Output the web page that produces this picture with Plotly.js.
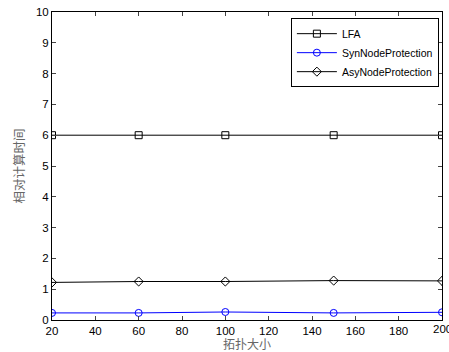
<!DOCTYPE html>
<html><head><meta charset="utf-8">
<script src="https://cdn.plot.ly/plotly-3.0.1.min.js"></script>
<style>body{margin:0;background:#fff}#c{width:449px;height:352px}</style>
</head><body><div id="c"></div>
<script>
const sizes = [20, 60, 100, 150, 200];
const lfa = [6, 6, 6, 6, 6];
const syn = [0.23, 0.23, 0.26, 0.23, 0.25];
const asy = [1.22, 1.25, 1.25, 1.28, 1.27];
const xTicks = [20, 40, 60, 80, 100, 120, 140, 160, 180, 200];
const yTicks = [0,1,2,3,4,5,6,7,8,9,10];

const traces = [
  {x: sizes, y: lfa, name: 'LFA', mode: 'lines+markers', line: {color: '#000', width: 1},
   marker: {symbol: 'square-open', size: 7, color: '#000', line: {width: 1}}},
  {x: sizes, y: syn, name: 'SynNodeProtection', mode: 'lines+markers', line: {color: '#0000ff', width: 1},
   marker: {symbol: 'circle-open', size: 7, color: '#0000ff', line: {width: 1}}},
  {x: sizes, y: asy, name: 'AsyNodeProtection', mode: 'lines+markers', line: {color: '#000', width: 1},
   marker: {symbol: 'diamond-open', size: 7, color: '#000', line: {width: 1}}}
];
const lastTick = xTicks[xTicks.length - 1];
const layout = {
  width: 449, height: 352,
  margin: {l: 52, r: 7, t: 12, b: 32},
  paper_bgcolor: '#fff', plot_bgcolor: '#fff',
  font: {family: 'Liberation Sans, Arial, sans-serif', size: 11.5, color: '#000'},
  showlegend: true,
  legend: {x: 0.992, y: 0.98, xanchor: 'right', yanchor: 'top', bgcolor: '#fff',
    bordercolor: '#000', borderwidth: 1, font: {size: 10.5}, tracegroupgap: 0,
    itemwidth: 40},
  annotations: [{x: lastTick, y: 0, xref: 'x', yref: 'paper', text: String(lastTick),
    showarrow: false, xanchor: 'center', yanchor: 'top', yshift: -1, font: {size: 11.5, color: '#000'}}],
  xaxis: {range: [20, 200], tickvals: xTicks, ticks: 'inside', ticklen: 4, mirror: 'ticks',
    showline: true, linecolor: '#000', linewidth: 1, showgrid: false, zeroline: false,
    title: {text: '拓扑大小', font: {family: 'Noto Sans CJK SC', size: 12, color: '#666'}, standoff: 2}},
  yaxis: {range: [0, 10], tickvals: yTicks, ticks: 'inside', ticklen: 4, mirror: 'ticks',
    showline: true, linecolor: '#000', linewidth: 1, showgrid: false, zeroline: false,
    title: {text: '相对计算时间', font: {family: 'Noto Sans CJK SC', size: 12.5, color: '#666'}, standoff: 8}}
};
Plotly.newPlot('c', traces, layout, {displayModeBar: false, staticPlot: true});
</script></body></html>
